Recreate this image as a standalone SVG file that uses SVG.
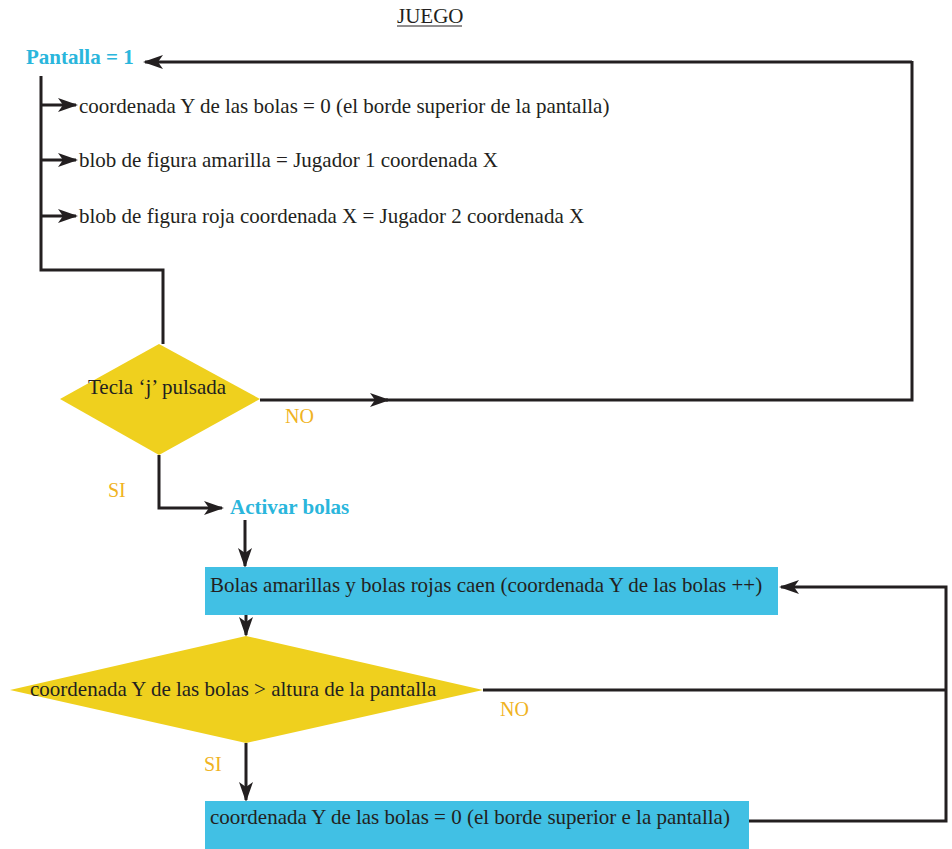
<svg xmlns="http://www.w3.org/2000/svg" width="952" height="849" viewBox="0 0 952 849">
<style>
.t{font-family:"Liberation Serif","Times New Roman",serif;font-size:21px;fill:#231f20}
.b{font-family:"Liberation Serif","Times New Roman",serif;font-size:21px;font-weight:bold;fill:#2ab6dc}
.y{font-family:"Liberation Serif","Times New Roman",serif;font-size:20px;fill:#f0b323}
.ln{fill:none;stroke:#231f20;stroke-width:3}
.box{fill:#41c0e4}
.dia{fill:#efd01e}
</style>
<defs>
<marker id="ah" viewBox="0 0 20 14" refX="18" refY="7" markerWidth="20" markerHeight="14" markerUnits="userSpaceOnUse" orient="auto">
<path d="M0,0 L20,7 L0,14 L5,7 Z" fill="#231f20"/>
</marker>
</defs>
<text class="t" x="397" y="23" font-size="20">JUEGO</text>
<line x1="397" y1="26" x2="462" y2="26" stroke="#231f20" stroke-width="1"/>
<g id="connectors">
<path class="ln" d="M912,62 L145,62" marker-end="url(#ah)"/>
<path class="ln" d="M41,76 L41,270 L163,270 L163,344"/>
<path class="ln" d="M41,105 L76,105" marker-end="url(#ah)"/>
<path class="ln" d="M41,160 L76,160" marker-end="url(#ah)"/>
<path class="ln" d="M41,216 L76,216" marker-end="url(#ah)"/>
<path class="ln" d="M260,400 L388,400" marker-end="url(#ah)"/>
<path class="ln" d="M386,400 L912,400 L912,61"/>
<path class="ln" d="M159,455 L159,508 L222,508" marker-end="url(#ah)"/>
<path class="ln" d="M245,520 L245,566" marker-end="url(#ah)"/>
<path class="ln" d="M246,597 L246,635" marker-end="url(#ah)"/>
<path class="ln" d="M483,690 L946,690"/>
<path class="ln" d="M749,821 L946,821 L946,587 L781,587" marker-end="url(#ah)"/>
<path class="ln" d="M246,743 L246,800" marker-end="url(#ah)"/>
</g>
<g id="n-pantalla"><text class="b" x="26" y="64">Pantalla = 1</text></g>
<g id="n-coordY"><text class="t" x="79" y="113">coordenada Y de las bolas = 0 (el borde superior de la pantalla)</text></g>
<g id="n-blobA"><text class="t" x="79" y="167">blob de figura amarilla = Jugador 1 coordenada X</text></g>
<g id="n-blobR"><text class="t" x="79" y="223">blob de figura roja coordenada X = Jugador 2 coordenada X</text></g>
<g id="n-tecla">
<polygon class="dia" points="159,344 260,399 159,455 60,399"/>
<text class="t" x="88" y="394">Tecla ‘j’ pulsada</text>
</g>
<text class="y" x="285" y="423">NO</text>
<text class="y" x="108" y="497">SI</text>
<g id="n-activar"><text class="b" x="230" y="514">Activar bolas</text></g>
<g id="n-caen">
<rect class="box" x="205" y="567" width="573" height="48"/>
<text class="t" x="210" y="592">Bolas amarillas y bolas rojas caen (coordenada Y de las bolas ++)</text>
</g>
<g id="n-altura">
<polygon class="dia" points="246,636 483,690 246,743 10,690"/>
<text class="t" x="30" y="696">coordenada Y de las bolas &gt; altura de la pantalla</text>
</g>
<text class="y" x="500" y="716">NO</text>
<text class="y" x="204" y="771">SI</text>
<g id="n-reset">
<rect class="box" x="205" y="801" width="544" height="48"/>
<text class="t" x="210" y="824">coordenada Y de las bolas = 0 (el borde superior e la pantalla)</text>
</g>
</svg>
